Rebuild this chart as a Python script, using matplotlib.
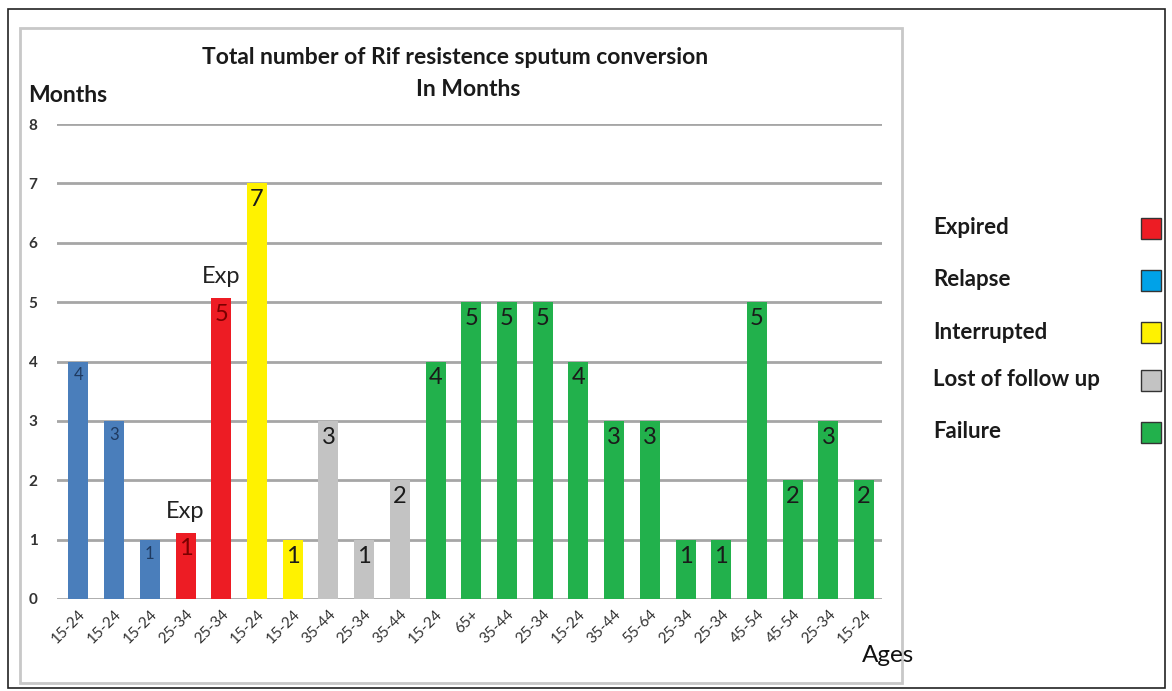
import matplotlib.pyplot as plt
from matplotlib.patches import Rectangle

plt.rcParams["font.family"] = ["Lato", "DejaVu Sans"]

# bar data (left to right)
ages = ["15-24", "15-24", "15-24", "25-34", "25-34", "15-24", "15-24", "35-44",
        "25-34", "35-44", "15-24", "65+", "35-44", "25-34", "15-24", "35-44",
        "55-64", "25-34", "25-34", "45-54", "45-54", "25-34", "15-24"]
months = [4, 3, 1, 1.12, 5.07, 7, 1, 3, 1, 2, 4, 5, 5, 5, 4, 3, 3, 1, 1, 5, 2, 3, 2]
value_labels = ["4", "3", "1", "1", "5", "7", "1", "3", "1", "2", "4", "5", "5",
                "5", "4", "3", "3", "1", "1", "5", "2", "3", "2"]
outcome = (["Relapse"] * 3 + ["Expired"] * 2 + ["Interrupted"] * 2
           + ["Lost of follow up"] * 3 + ["Failure"] * 13)

legend_order = ["Expired", "Relapse", "Interrupted", "Lost of follow up", "Failure"]
bar_colors = {"Expired": "#ED1C24", "Relapse": "#4A7EBB", "Interrupted": "#FFF200",
              "Lost of follow up": "#C3C3C3", "Failure": "#22B14C"}
legend_colors = {"Expired": "#ED1C24", "Relapse": "#00A2E8", "Interrupted": "#FFF200",
                 "Lost of follow up": "#C3C3C3", "Failure": "#22B14C"}

W, H = 1172, 691
fig = plt.figure(figsize=(W / 100, H / 100), dpi=100)

# outer black frame and grey chart frame
fig.patches.append(Rectangle((8 / W, 1 - 688 / H), 1157 / W, 679 / H,
                             transform=fig.transFigure, fill=False,
                             edgecolor="#222222", lw=1.2))
fig.patches.append(Rectangle((20 / W, 1 - 683 / H), 882 / W, 655 / H,
                             transform=fig.transFigure, fill=False,
                             edgecolor="#C8C8C8", lw=2))

ax = fig.add_axes([57 / W, 1 - 599 / H, (882 - 57) / W, (599 - 124) / H])
x = list(range(len(months)))
ax.bar(x, months, width=0.56, color=[bar_colors[o] for o in outcome], zorder=3)

for xi, v, lab, o in zip(x, months, value_labels, outcome):
    small = o == "Relapse"
    col = "#1F3A60" if small else ("#7A0000" if o == "Expired" else "#1A1A1A")
    ax.text(xi, v - 0.1, lab, ha="center", va="top",
            fontsize=12 if small else 17, color=col, zorder=4)

# "Exp" notes above the red bars
ax.text(3, 1.3, "Exp", ha="center", va="bottom", fontsize=17, color="#222222")
ax.text(4, 5.25, "Exp", ha="center", va="bottom", fontsize=17, color="#222222")

ax.set_xlim(-0.6, 22.5)
ax.set_ylim(0, 8)
ax.set_yticks(range(0, 9))
ax.yaxis.grid(True, color="#A6A6A6", lw=2)
ax.set_axisbelow(True)
for s in ax.spines.values():
    s.set_visible(False)
ax.tick_params(length=0)
ax.tick_params(axis="y", labelsize=11, pad=14, labelcolor="#333333")
for t in ax.get_yticklabels():
    t.set_fontweight("bold")
ax.set_xticks(x)
ax.set_xticklabels(ages, rotation=45, ha="right", rotation_mode="anchor",
                   fontsize=11, color="#333333")
ax.tick_params(axis="x", pad=6)

fig.text(455 / W, 1 - 57 / H, "Total number of Rif resistence sputum conversion",
         ha="center", va="center", fontsize=16.5, fontweight="bold", color="#1A1A1A")
fig.text(468 / W, 1 - 90 / H, "In Months", ha="center", va="center",
         fontsize=16.5, fontweight="bold", color="#1A1A1A")
fig.text(28 / W, 1 - 95 / H, "Months", ha="left", va="center",
         fontsize=16.5, fontweight="bold", color="#1A1A1A")
fig.text(862 / W, 1 - 656 / H, "Ages", ha="left", va="center",
         fontsize=17.5, color="#111111")

# hand-made legend on the right
leg_y = [228, 280, 332, 380, 432]
for name, y in zip(legend_order, leg_y):
    fig.text(933 / W, 1 - y / H, name, ha="left", va="center",
             fontsize=16, fontweight="bold", color="#1A1A1A")
    fig.patches.append(Rectangle((1141 / W, 1 - (y + 11) / H), 20 / W, 21 / H,
                                 transform=fig.transFigure,
                                 facecolor=legend_colors[name],
                                 edgecolor="#333333", lw=1))

fig.savefig("out.png", dpi=100, facecolor="white")
